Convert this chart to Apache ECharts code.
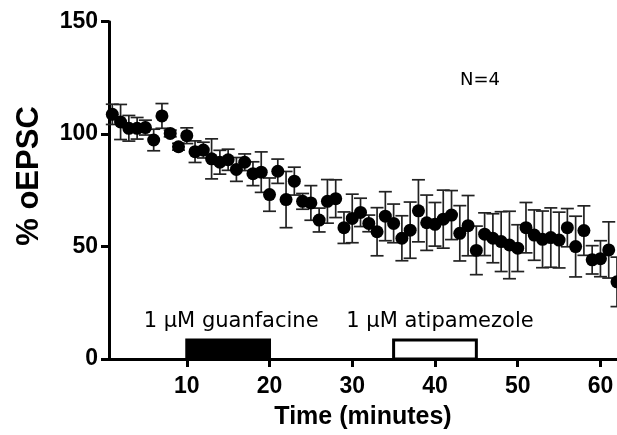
<!DOCTYPE html>
<html>
<head>
<meta charset="utf-8">
<script src="https://cdn.jsdelivr.net/npm/echarts@6/dist/echarts.min.js"></script>
<style>
html,body{margin:0;padding:0;background:#fff;}
#chart{width:617px;height:435px;}
</style>
</head>
<body>
<div id="chart"></div>
<script>
// ---- data ----
const minutes = [1,2,3,4,5,6,7,8,9,10,11,12,13,14,15,16,17,18,19,20,21,22,23,24,25,26,27,28,29,30,31,32,33,34,35,36,37,38,39,40,41,42,43,44,45,46,47,48,49,50,51,52,53,54,55,56,57,58,59,60,61,62];
const meanPct = [108.8,105.4,102.6,102.6,102.9,97.4,108.1,100.3,94.4,99.3,92.2,92.9,89.0,87.5,88.6,84.3,87.5,82.4,83.1,73.1,83.5,70.9,79.1,70.1,69.4,61.8,70.1,71.3,58.4,62.5,65.2,60.3,56.6,63.5,60.3,53.7,57.3,65.9,60.6,59.9,62.2,64.0,55.9,59.3,48.3,55.5,53.7,52.2,50.7,49.3,58.4,55.1,53.2,54.0,52.9,58.4,50.0,57.1,44.1,44.6,48.5,34.3];
const semPct = [4.5,7.8,5.7,4.8,3.3,4.8,5.5,1.5,1.5,3.5,4.8,3.5,8.9,5.3,4.7,5.3,3.7,5.3,9.0,7.4,5.4,12.5,6.2,3.5,7.7,5.3,9.7,8.4,7.0,10.8,6.3,3.7,10.7,10.9,8.6,10.0,12.5,13.8,12.3,9.7,12.9,10.9,12.3,13.4,10.8,9.5,10.9,13.3,15.0,10.4,11.2,11.2,12.6,13.2,12.4,8.5,13.5,11.0,6.3,8.0,12.5,11.0];
const xTicks = [10,20,30,40,50,60];
const drugNames = ['1 \u03bcM guanfacine','1 \u03bcM atipamezole'];
const drugStart = [10,35];
const drugEnd = [20,45];
const drugBarHeight = 8.5;
const drugFill = ['#000000','#ffffff'];
const drugLabelShift = [3,5];
const nLabel = 'N=4';

const pts = minutes.map((m,i)=>[m, meanPct[i], semPct[i]]);

const chart = echarts.init(document.getElementById('chart'), null, {renderer:'canvas'});
const FONT = '"Liberation Sans", Arial, Helvetica, sans-serif';

const areas = drugNames.map((n,i)=>[
  {xAxis: drugStart[i], yAxis: 0, name: n,
   itemStyle:{color: drugFill[i], borderColor:'#000', borderWidth:3, opacity:1},
   label:{show:true, position:'top', distance:6, offset:[drugLabelShift[i],0], formatter:n,
          color:'#000', fontFamily:'"DejaVu Sans", sans-serif', fontSize:21}},
  {xAxis: drugEnd[i], yAxis: drugBarHeight}
]);

chart.setOption({
  animation:false,
  backgroundColor:'#fff',
  grid:{left:109, top:21.7, width:508.6, height:340, containLabel:false},
  xAxis:{
    type:'value', min:0.6, max:62,
    name:'Time (minutes)', nameLocation:'middle', nameGap:46,
    nameTextStyle:{fontFamily:FONT, fontWeight:'bold', fontSize:25, color:'#000'},
    axisLine:{show:true, onZero:false, lineStyle:{color:'#000', width:3}},
    axisTick:{show:true, customValues:xTicks, length:8, inside:false, lineStyle:{color:'#000', width:3}},
    axisLabel:{show:true, customValues:xTicks, margin:16, fontFamily:FONT, fontWeight:'bold', fontSize:23, color:'#000'},
    splitLine:{show:false}
  },
  yAxis:{
    type:'value', min:0, max:150, interval:50,
    axisLine:{show:true, onZero:false, lineStyle:{color:'#000', width:3}},
    axisTick:{show:true, length:8, lineStyle:{color:'#000', width:3}},
    axisLabel:{margin:11, fontFamily:FONT, fontWeight:'bold', fontSize:23, color:'#000'},
    splitLine:{show:false}
  },
  graphic:[
    {type:'text', x:29, y:176, rotation:Math.PI/2,
     style:{text:'% oEPSC', fontFamily:FONT, fontWeight:'bold', fontSize:31, fill:'#000',
            align:'center', verticalAlign:'middle'}},
    {type:'text', x:480, y:80,
     style:{text:nLabel, fontFamily:'"DejaVu Sans", sans-serif', fontSize:18, fill:'#000',
            align:'center', verticalAlign:'middle'}}
  ],
  series:[
    {
      type:'custom', name:'sem', data:pts, clip:false, z:2,
      encode:{x:0, y:1},
      renderItem:function(params, api){
        const x = api.value(0), m = api.value(1), s = api.value(2);
        const t = api.coord([x, m+s]);
        const b = api.coord([x, m-s]);
        const hw = 6.5;
        const st = {stroke:'#222', lineWidth:1.7};
        return {type:'group', children:[
          {type:'line', shape:{x1:t[0], y1:t[1], x2:b[0], y2:b[1]}, style:st},
          {type:'line', shape:{x1:t[0]-hw, y1:t[1], x2:t[0]+hw, y2:t[1]}, style:st},
          {type:'line', shape:{x1:b[0]-hw, y1:b[1], x2:b[0]+hw, y2:b[1]}, style:st}
        ]};
      },
      markArea:{silent:true, data:areas}
    },
    {
      type:'scatter', name:'mean', data:pts, symbol:'circle', symbolSize:13, z:3,
      itemStyle:{color:'#000', opacity:1}
    }
  ]
});
</script>
</body>
</html>
